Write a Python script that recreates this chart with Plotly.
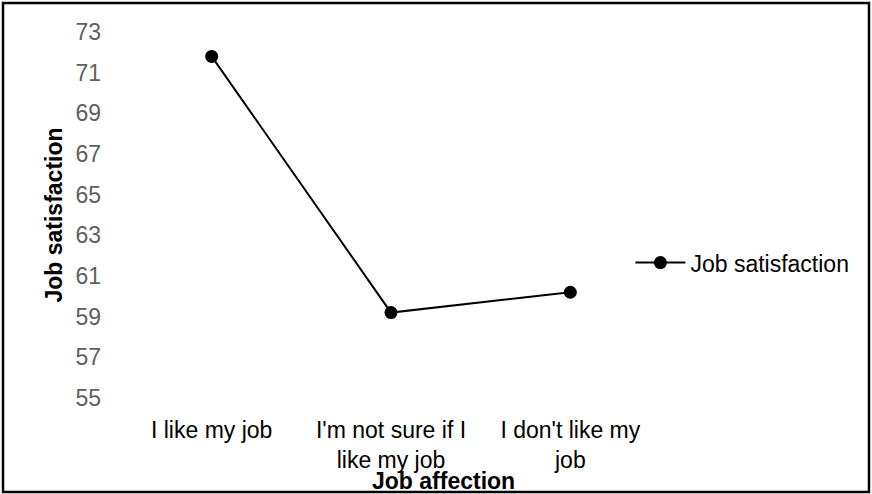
import plotly.graph_objects as go

# Job satisfaction score by job-affection group
categories = ["I like my job", "I'm not sure if I<br>like my job", "I don't like my<br>job"]
satisfaction = [71.8, 59.2, 60.2]
y_ticks = [55, 57, 59, 61, 63, 65, 67, 69, 71, 73]

FONT = "Liberation Sans, Arial, sans-serif"
SIZE = 23

fig = go.Figure()
fig.add_trace(go.Scatter(
    x=list(range(len(categories))),
    y=satisfaction,
    mode="lines+markers",
    name="Job satisfaction",
    line=dict(color="black", width=2),
    marker=dict(color="black", size=13),
))

fig.update_layout(
    width=872,
    height=494,
    margin=dict(l=122, r=212, t=32, b=96),
    paper_bgcolor="white",
    plot_bgcolor="white",
    font=dict(family=FONT, size=SIZE, color="black"),
    showlegend=True,
    legend=dict(
        x=0.945, xanchor="left",
        y=0.37, yanchor="middle",
        font=dict(family=FONT, size=SIZE, color="black"),
        itemwidth=50,
        bgcolor="rgba(0,0,0,0)",
    ),
    xaxis=dict(
        range=[-0.5, 2.5],
        tickmode="array",
        tickvals=list(range(len(categories))),
        ticktext=categories,
        showgrid=False,
        showline=False,
        zeroline=False,
        ticks="",
        ticklabelstandoff=16,
        tickfont=dict(family=FONT, size=SIZE, color="black"),
    ),
    yaxis=dict(
        range=[55, 73],
        tickmode="array",
        tickvals=y_ticks,
        showgrid=False,
        showline=False,
        zeroline=False,
        ticks="",
        ticklabelstandoff=20,
        tickfont=dict(family=FONT, size=SIZE, color="#5f5f5f"),
        title=dict(text="<b>Job satisfaction</b>", standoff=6,
                   font=dict(family=FONT, size=SIZE, color="black")),
    ),
    annotations=[dict(
        text="<b>Job affection</b>",
        xref="paper", yref="paper",
        x=0.598, y=-0.226,
        xanchor="center", yanchor="middle",
        showarrow=False,
        font=dict(family=FONT, size=SIZE, color="black"),
    )],
    shapes=[dict(
        type="rect", xref="paper", yref="paper",
        x0=-119 / 538, x1=1 + 209 / 538,
        y0=-94 / 366, y1=1 + 29 / 366,
        line=dict(color="black", width=2.5),
        fillcolor="rgba(0,0,0,0)",
        layer="below",
    )],
)

fig.write_html("out.html")
